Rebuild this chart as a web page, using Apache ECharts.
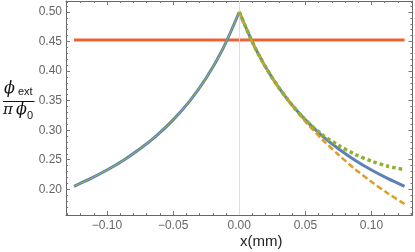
<!DOCTYPE html>
<html><head><meta charset="utf-8">
<script src="https://cdn.jsdelivr.net/npm/echarts@6/dist/echarts.min.js"></script>
<style>html,body{margin:0;padding:0;background:#fff}#c{width:415px;height:252px}</style>
</head><body><div id="c"></div>
<script>
// ---- data ----
var xLeft = [-0.125,-0.1125,-0.1,-0.0875,-0.075,-0.0625,-0.05,-0.0375,-0.025,-0.0125,0];
var blueLeft = [0.2051,0.2180,0.2326,0.2492,0.2685,0.2909,0.3175,0.3493,0.3883,0.4372,0.5000];
var xRight = [0,0.0125,0.025,0.0375,0.05,0.0625,0.075,0.0875,0.1,0.1125,0.125];
var blueRight = [0.5000,0.4372,0.3883,0.3493,0.3175,0.2909,0.2685,0.2492,0.2326,0.2180,0.2051];
var greenRight = [0.5000,0.4372,0.3883,0.3493,0.3175,0.2929,0.2745,0.2592,0.2476,0.2390,0.2331];
var orangeRight = [0.5000,0.4372,0.3883,0.3490,0.3145,0.2849,0.2585,0.2342,0.2126,0.1930,0.1751];
var constX = [-0.125,0.125];
var constY = [0.4527,0.4527];
var xMajorTicks = [-0.1,-0.05,0,0.05,0.1];
var xMinorTicks = [-0.13,-0.12,-0.11,-0.09,-0.08,-0.07,-0.06,-0.04,-0.03,-0.02,-0.01,0.01,0.02,0.03,0.04,0.06,0.07,0.08,0.09,0.11,0.12,0.13];
var yMajorTicks = [0.2,0.25,0.3,0.35,0.4,0.45,0.5];
var yMinorTicks = [0.16,0.17,0.18,0.19,0.21,0.22,0.23,0.24,0.26,0.27,0.28,0.29,0.31,0.32,0.33,0.34,0.36,0.37,0.38,0.39,0.41,0.42,0.43,0.44,0.46,0.47,0.48,0.49,0.51];

function zip(a,b){return a.map(function(v,i){return [v,b[i]];});}
var XMIN=-0.131, XMAX=0.131, YMIN=0.1565, YMAX=0.5186;
var frameCol='#666', tickCol='#777';
function fmtX(v){ if(Math.abs(v)<1e-9) return '0.00'; return v<0?'\u2212'+Math.abs(v).toFixed(2):v.toFixed(2); }

function xAx(pos, major, labels){
  return {type:'value', position:pos, min:XMIN, max:XMAX,
    axisLine:{show:major, onZero:false, lineStyle:{color:frameCol,width:1}},
    splitLine:{show:false},
    axisTick:{show:true, inside:true, length: major?4:2, customValues: major?xMajorTicks:xMinorTicks, lineStyle:{color:tickCol}},
    axisLabel:{show:labels, customValues:xMajorTicks, formatter:fmtX, color:'#666', fontFamily:'Liberation Sans', fontSize:12, margin:5}
  };
}
function yAx(pos, major, labels){
  return {type:'value', position:pos, min:YMIN, max:YMAX,
    axisLine:{show:major, onZero:false, lineStyle:{color:frameCol,width:1}},
    splitLine:{show:false},
    axisTick:{show:true, inside:true, length: major?4:2, customValues: major?yMajorTicks:yMinorTicks, lineStyle:{color:tickCol}},
    axisLabel:{show:labels, customValues:yMajorTicks, formatter:function(v){return v.toFixed(2);}, color:'#666', fontFamily:'Liberation Sans', fontSize:12, margin:4}
  };
}

var chart = echarts.init(document.getElementById('c'), null, {renderer:'canvas'});
chart.setOption({
  animation:false,
  grid:{left:66, right:2.5, top:1, bottom:37, containLabel:false},
  xAxis:[xAx('bottom',true,true), xAx('bottom',false,false), xAx('top',true,false), xAx('top',false,false)],
  yAxis:[yAx('left',true,true), yAx('left',false,false), yAx('right',true,false), yAx('right',false,false)],
  graphic:[
    {type:'text', left:4, top:81, style:{text:'\u03D5', font:'italic 16px "DejaVu Serif"', fill:'#111'}},
    {type:'text', left:18, top:86, style:{text:'ext', font:'11px "Liberation Sans"', fill:'#111'}},
    {type:'line', shape:{x1:3, y1:101.5, x2:34.5, y2:101.5}, style:{stroke:'#111', lineWidth:1}},
    {type:'text', left:3, top:103, style:{text:'\u03C0', font:'italic 15px "DejaVu Serif"', fill:'#111'}},
    {type:'text', left:16, top:102, style:{text:'\u03D5', font:'italic 16px "DejaVu Serif"', fill:'#111'}},
    {type:'text', left:27, top:110, style:{text:'0', font:'11px "Liberation Sans"', fill:'#111'}},
    {type:'text', left:240, top:234, style:{text:'x(mm)', font:'15px "Liberation Sans"', fill:'#222', align:'center'}}
  ],
  series:[
    {type:'line', data:[], z:1, markLine:{silent:true, symbol:'none', label:{show:false}, lineStyle:{color:'#ddd', type:'solid', width:1}, data:[{xAxis:0}]}},
    {type:'line', data:zip(constX,constY), showSymbol:false, symbol:'none', lineStyle:{color:'#EB6235', width:3}, z:3},
    {type:'line', data:zip(xLeft,blueLeft), symbol:'none', smooth:0.3, lineStyle:{color:'#5E81B5', width:3}, z:4},
    {type:'line', data:zip(xRight,blueRight), symbol:'none', smooth:0.3, lineStyle:{color:'#5E81B5', width:3}, z:4},
    {type:'line', data:zip(xLeft,blueLeft), symbol:'none', smooth:0.3, lineStyle:{color:'#9AB84A', width:1}, z:5},
    {type:'line', data:zip(xRight,orangeRight), symbol:'none', smooth:0.3, lineStyle:{color:'#E19C24', width:2.5, type:[6,3], cap:'butt'}, z:5},
    {type:'line', data:zip(xRight,greenRight), symbol:'none', smooth:0.3, lineStyle:{color:'#8FB131', width:3.5, type:[3.5,3], cap:'butt'}, z:6}
  ]
});
</script></body></html>
